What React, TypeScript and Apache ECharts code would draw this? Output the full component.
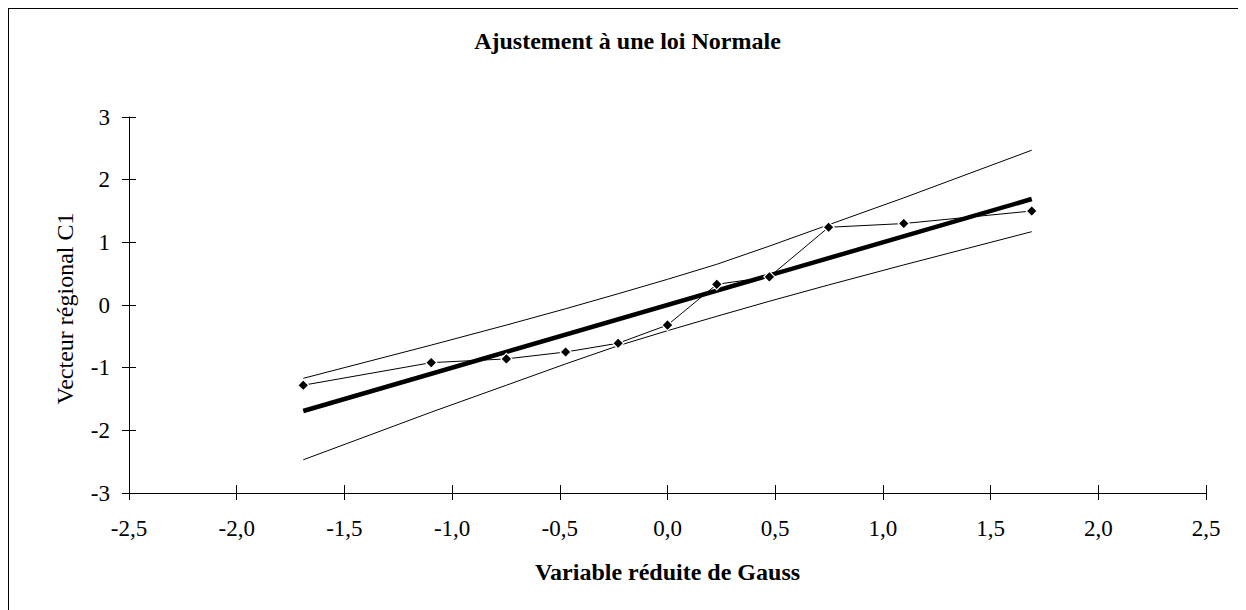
import React, { useEffect, useRef } from "react";
import * as echarts from "echarts";

// Gauss reduced variable (normal quantiles of the plotting positions)
const gaussX = [-1.691, -1.097, -0.748, -0.473, -0.229, 0.0, 0.229, 0.473, 0.748, 1.097, 1.691];
// Observed regional vector C1
const observed = [-1.28, -0.92, -0.86, -0.75, -0.61, -0.32, 0.33, 0.45, 1.24, 1.3, 1.5];
// Confidence band
const upperBand = [-1.17, -0.64, -0.32, -0.06, 0.18, 0.41, 0.65, 0.94, 1.28, 1.71, 2.47];
const lowerBand = [-2.47, -1.71, -1.28, -0.94, -0.65, -0.41, -0.18, 0.06, 0.32, 0.64, 1.17];
// Fitted normal law
const fitX = [-1.691, 1.691];
const fitY = [-1.691, 1.691];

const titleText = "Ajustement à une loi Normale";
const xName = "Variable réduite de Gauss";
const yName = "Vecteur régional C1";

const FONT = "serif";

export default function App() {
  const ref = useRef<HTMLDivElement>(null);
  useEffect(() => {
    const chart = echarts.init(ref.current!, null, { renderer: "svg" });
    const zip = (xs: number[], ys: number[]) => xs.map((x, i) => [x, ys[i]]);
    const thin = { color: "#000", width: 1 };
    const grid = { left: 120, top: 108, width: 1077, height: 376 };
    const xFmt = (v: number) => v.toFixed(1).replace(".", ",");
    chart.setOption({
      animation: false,
      backgroundColor: "#fff",
      textStyle: { fontFamily: FONT },
      grid,
      xAxis: [
        {
          type: "value",
          min: -2.5,
          max: 2.5,
          interval: 0.5,
          position: "bottom",
          axisLine: { show: true, onZero: false, lineStyle: { color: "#000", width: 1 } },
          axisTick: { show: true, inside: false, length: 7, lineStyle: { color: "#000" } },
          axisLabel: { margin: 24, fontFamily: FONT, fontSize: 23, color: "#000", formatter: xFmt },
          splitLine: { show: false },
        },
        {
          type: "value",
          min: -2.5,
          max: 2.5,
          interval: 0.5,
          position: "bottom",
          axisLine: { show: false, onZero: false },
          axisTick: { show: true, inside: true, length: 8, lineStyle: { color: "#000" } },
          axisLabel: { show: false },
          splitLine: { show: false },
        },
      ],
      yAxis: [
        {
          type: "value",
          min: -3,
          max: 3,
          interval: 1,
          position: "left",
          axisLine: { show: true, onZero: false, lineStyle: { color: "#000", width: 1 } },
          axisTick: { show: true, inside: false, length: 7, lineStyle: { color: "#000" } },
          axisLabel: { margin: 19, fontFamily: FONT, fontSize: 23, color: "#000" },
          splitLine: { show: false },
        },
        {
          type: "value",
          min: -3,
          max: 3,
          interval: 1,
          position: "left",
          axisLine: { show: false, onZero: false },
          axisTick: { show: true, inside: true, length: 7, lineStyle: { color: "#000" } },
          axisLabel: { show: false },
          splitLine: { show: false },
        },
      ],
      graphic: [
        {
          type: "text",
          x: 618.5,
          y: 32,
          style: {
            text: titleText,
            fontFamily: FONT,
            fontSize: 24,
            fontWeight: "bold",
            fill: "#000",
            textAlign: "center",
            textVerticalAlign: "middle",
          },
        },
        {
          type: "text",
          x: 658.5,
          y: 563,
          style: {
            text: xName,
            fontFamily: FONT,
            fontSize: 24,
            fontWeight: "bold",
            fill: "#000",
            textAlign: "center",
            textVerticalAlign: "middle",
          },
        },
        {
          type: "text",
          x: 56,
          y: 299.5,
          rotation: Math.PI / 2,
          style: {
            text: yName,
            fontFamily: FONT,
            fontSize: 24,
            fill: "#000",
            textAlign: "center",
            textVerticalAlign: "middle",
          },
        },
      ],
      series: [
        {
          type: "line",
          data: zip(gaussX, upperBand),
          symbol: "none",
          lineStyle: thin,
          z: 2,
        },
        {
          type: "line",
          data: zip(gaussX, lowerBand),
          symbol: "none",
          lineStyle: thin,
          z: 2,
        },
        {
          type: "line",
          data: zip(fitX, fitY),
          symbol: "none",
          lineStyle: { color: "#000", width: 4.5 },
          z: 3,
        },
        {
          type: "line",
          data: zip(gaussX, observed),
          symbol: "diamond",
          symbolSize: 11,
          showSymbol: true,
          lineStyle: thin,
          itemStyle: { color: "#000", borderColor: "#fff", borderWidth: 1.2 },
          z: 4,
        },
      ],
    });
    return () => chart.dispose();
  }, []);
  return (
    <div
      style={{
        borderLeft: "1px solid #000",
        borderTop: "1px solid #000",
        width: 1237,
        height: 601,
        background: "#fff",
      }}
    >
      <div ref={ref} style={{ width: 1237, height: 601 }} />
    </div>
  );
}
